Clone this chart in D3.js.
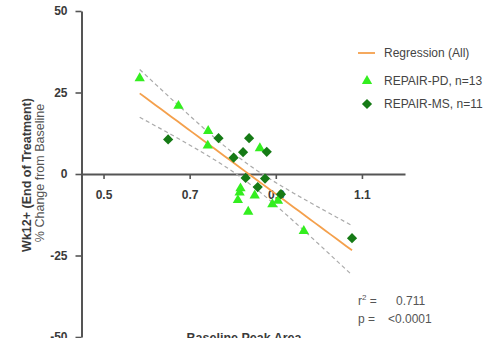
<!DOCTYPE html>
<html>
<head>
<meta charset="utf-8">
<script src="https://cdn.jsdelivr.net/npm/d3@7"></script>
<style>
  html, body { margin: 0; padding: 0; background: #fff; }
  svg { display: block; font-family: "Liberation Sans", Arial, sans-serif; }
</style>
</head>
<body>
<svg id="chart" width="504" height="338"></svg>
<script>
// Baseline peak area (x) vs. % change from baseline at Wk12+ (y)
const pdX = [0.584, 0.674, 0.743, 0.742, 0.863, 0.818, 0.816, 0.812, 0.851, 0.836, 0.892, 0.905, 0.965];
const pdY = [29.4, 20.9, 13.2, 8.7, 7.9, -4.4, -5.7, -8.0, -6.6, -11.6, -9.3, -8.2, -17.5];
const msX = [0.650, 0.767, 0.838, 0.824, 0.802, 0.879, 0.830, 0.875, 0.858, 0.912, 1.077];
const msY = [10.6, 11.0, 11.0, 6.7, 5.0, 6.8, -1.2, -1.4, -4.0, -6.2, -19.7];

const xTicks = [0.5, 0.7, 0.9, 1.1];
const yTicks = [-50, -25, 0, 25, 50];
const legendLabels = ["Regression (All)", "REPAIR-PD, n=13", "REPAIR-MS, n=11"];
const statLabels = ["0.711", "<0.0001"];

const svg = d3.select("#chart");
const x = d3.scaleLinear().domain([0.45, 1.2]).range([82, 405]);
const y = d3.scaleLinear().domain([-50, 50]).range([337, 11]);

const axisColor = "#555";
const textColor = "#3a3a3a";

// ---- least-squares fit over all subjects, with 95% CI of the mean ----
const allX = pdX.concat(msX), allY = pdY.concat(msY);
const n = allX.length;
const mx = d3.mean(allX), my = d3.mean(allY);
let sxx = 0, sxy = 0;
allX.forEach((v, i) => { sxx += (v - mx) ** 2; sxy += (v - mx) * (allY[i] - my); });
const slope = sxy / sxx, intercept = my - slope * mx;
let sse = 0;
allX.forEach((v, i) => { sse += (allY[i] - (intercept + slope * v)) ** 2; });
const s = Math.sqrt(sse / (n - 2));
const tCrit = 2.074; // t(0.975, df = 22)
const [x0, x1] = d3.extent(allX);
const fitPts = d3.range(0, 41).map(k => {
  const xv = x0 + (x1 - x0) * k / 40;
  const yv = intercept + slope * xv;
  const hw = tCrit * s * Math.sqrt(1 / n + (xv - mx) ** 2 / sxx);
  return { x: xv, y: yv, lo: yv - hw, hi: yv + hw };
});

// ---- axes ----
const yAxis = svg.append("g")
  .attr("transform", "translate(81.5,0)")
  .call(d3.axisLeft(y).tickValues(yTicks).tickSize(6).tickSizeOuter(0).tickPadding(8).tickFormat(d => String(d)));
yAxis.select(".domain").attr("stroke", axisColor).attr("stroke-width", 2);
yAxis.selectAll(".tick line").attr("stroke", axisColor).attr("stroke-width", 1.6);
yAxis.selectAll(".tick text").attr("fill", textColor).attr("font-size", 12).attr("font-weight", "bold")
  .attr("font-family", "Liberation Sans, Arial, sans-serif");

const xAxis = svg.append("g")
  .attr("transform", `translate(0,${y(0)})`)
  .call(d3.axisBottom(x).tickValues(xTicks).tickSize(5).tickSizeOuter(0).tickPadding(11).tickFormat(d3.format(".1f")));
xAxis.select(".domain").attr("stroke", axisColor).attr("stroke-width", 2);
xAxis.selectAll(".tick line").attr("stroke", axisColor).attr("stroke-width", 1.6);
xAxis.selectAll(".tick text").attr("fill", textColor).attr("font-size", 12).attr("font-weight", "bold")
  .attr("font-family", "Liberation Sans, Arial, sans-serif");

// axis titles
svg.append("text")
  .attr("transform", "rotate(-90)")
  .attr("x", -175).attr("y", 30.5)
  .attr("text-anchor", "middle")
  .attr("font-size", 12.5).attr("font-weight", "bold").attr("fill", textColor)
  .text("Wk12+ (End of Treatment)");
svg.append("text")
  .attr("transform", "rotate(-90)")
  .attr("x", -173).attr("y", 43.5)
  .attr("text-anchor", "middle")
  .attr("font-size", 12.5).attr("fill", "#555")
  .text("% Change from Baseline");
svg.append("text")
  .attr("x", 244).attr("y", 342)
  .attr("text-anchor", "middle")
  .attr("font-size", 12.5).attr("font-weight", "bold").attr("fill", textColor)
  .text("Baseline Peak Area");

// ---- confidence bands and regression line ----
const band = key => d3.line().x(d => x(d.x)).y(d => y(d[key]));
["hi", "lo"].forEach(k => {
  svg.append("path").datum(fitPts)
    .attr("d", band(k))
    .attr("fill", "none").attr("stroke", "#aaa").attr("stroke-width", 1.2)
    .attr("stroke-dasharray", "4,3");
});
svg.append("path").datum(fitPts)
  .attr("d", band("y"))
  .attr("fill", "none").attr("stroke", "#f4a04c").attr("stroke-width", 1.8);

// ---- points ----
const pdColor = "#33ee1f", msColor = "#157a15";
const tri = d3.symbol().type(d3.symbolTriangle).size(46);
const dia = d3.symbol().type(d3.symbolSquare).size(52);

svg.append("g").selectAll("path").data(pdX.map((v, i) => [v, pdY[i]])).join("path")
  .attr("d", tri)
  .attr("transform", d => `translate(${x(d[0])},${y(d[1])})`)
  .attr("fill", pdColor);

svg.append("g").selectAll("path").data(msX.map((v, i) => [v, msY[i]])).join("path")
  .attr("d", dia)
  .attr("transform", d => `translate(${x(d[0])},${y(d[1])}) rotate(45)`)
  .attr("fill", msColor);

// ---- legend ----
const lg = svg.append("g").attr("font-size", 12).attr("fill", "#444");
lg.append("line").attr("x1", 358).attr("x2", 375).attr("y1", 53).attr("y2", 53)
  .attr("stroke", "#f4a04c").attr("stroke-width", 1.8);
lg.append("path").attr("d", tri).attr("transform", "translate(367,81)").attr("fill", pdColor);
lg.append("path").attr("d", dia).attr("transform", "translate(367,104) rotate(45)").attr("fill", msColor);
[53, 81, 104].forEach((yy, i) => {
  lg.append("text").attr("x", 384).attr("y", yy).attr("dy", "0.35em").text(legendLabels[i]);
});

// ---- fit statistics ----
const st = svg.append("g").attr("font-size", 12).attr("fill", "#555");
const r2 = st.append("text").attr("x", 358).attr("y", 305);
r2.append("tspan").text("r");
r2.append("tspan").attr("dy", -5).attr("font-size", 8).text("2");
r2.append("tspan").attr("dy", 5).text(" =");
st.append("text").attr("x", 396).attr("y", 305).text(statLabels[0]);
st.append("text").attr("x", 358).attr("y", 323).text("p =");
st.append("text").attr("x", 388).attr("y", 323).text(statLabels[1]);
</script>
</body>
</html>
